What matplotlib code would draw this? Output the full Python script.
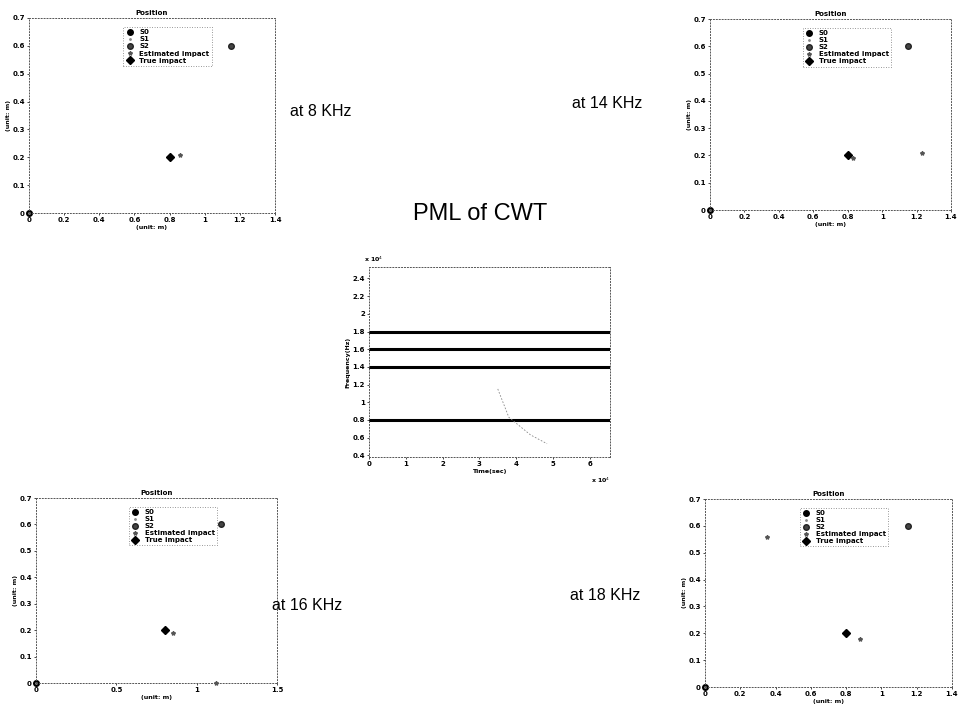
import matplotlib
matplotlib.use("Agg")
import matplotlib.pyplot as plt
import numpy as np

# ---------------- data ----------------
panel_names = ["at 8 KHz", "at 14 KHz", "at 16 KHz", "at 18 KHz"]
s0_pos = (0.0, 0.0)
s1_pos = (0.0, 0.0)
s2_pos = (1.15, 0.6)
true_impact = (0.8, 0.2)
est_8 = [(0.86, 0.21)]
est_14 = [(0.83, 0.19), (1.23, 0.21)]
est_16 = [(0.85, 0.19), (1.12, 0.0)]
est_18 = [(0.88, 0.18), (0.35, 0.56)]
xlims = [(0, 1.4), (0, 1.4), (0, 1.5), (0, 1.4)]
xticks_list = [[0, 0.2, 0.4, 0.6, 0.8, 1, 1.2, 1.4],
               [0, 0.2, 0.4, 0.6, 0.8, 1, 1.2, 1.4],
               [0, 0.5, 1, 1.5],
               [0, 0.2, 0.4, 0.6, 0.8, 1, 1.2, 1.4]]
yticks = [0, 0.1, 0.2, 0.3, 0.4, 0.5, 0.6, 0.7]

# center panel (PML of CWT), frequencies in units of 1e4 Hz, time in 1e4 samples
pml_freqs = [0.8, 1.4, 1.6, 1.8]
time_max = 6.55
faint_t = [3.5, 3.8, 4.39, 4.84]
faint_f = [1.15, 0.83, 0.63, 0.53]
cwt_xticks = [0, 1, 2, 3, 4, 5, 6]
cwt_yticks = [0.4, 0.6, 0.8, 1, 1.2, 1.4, 1.6, 1.8, 2, 2.2, 2.4]

# ---------------- figure ----------------
fig = plt.figure(figsize=(9.62, 7.10), dpi=100)
fig.patch.set_facecolor("white")

def px2fig(x0, x1, ytop, ybot):
    W, H = 962.0, 710.0
    return [x0 / W, 1 - ybot / H, (x1 - x0) / W, (ybot - ytop) / H]

def style_axes(ax):
    for sp in ax.spines.values():
        sp.set_linestyle((0, (1, 2)))
        sp.set_color("#555555")
        sp.set_linewidth(0.7)
    ax.tick_params(labelsize=5, length=1.5, width=0.5, pad=1.5)
    for lab in ax.get_xticklabels() + ax.get_yticklabels():
        lab.set_fontweight("bold")

rects = [px2fig(29, 275, 18, 213), px2fig(710, 951, 19, 210),
         px2fig(36, 277, 498, 683), px2fig(705, 952, 499, 687)]
ests = [est_8, est_14, est_16, est_18]

for rect, est, xl, xt in zip(rects, ests, xlims, xticks_list):
    ax = fig.add_axes(rect)
    ax.plot(*s0_pos, "o", color="black", ms=4, label="S0", clip_on=False)
    ax.plot(*s1_pos, ".", color="#888888", ms=2, label="S1", clip_on=False)
    ax.plot(*s2_pos, "o", color="#222222", ms=4, mfc="#444444", label="S2")
    ex = [p[0] for p in est]
    ey = [p[1] for p in est]
    ax.plot(ex, ey, "*", color="#555555", ms=3, ls="none", label="Estimated impact", clip_on=False)
    ax.plot(*true_impact, "D", color="black", ms=4, label="True impact")
    ax.set_xlim(*xl)
    ax.set_ylim(0, 0.7)
    ax.set_xticks(xt)
    ax.set_xticklabels([f"{v:g}" for v in xt])
    ax.set_yticks(yticks)
    ax.set_yticklabels([f"{v:g}" for v in yticks])
    ax.set_title("Position", fontsize=5, fontweight="bold", pad=2)
    ax.set_xlabel("(unit: m)", fontsize=4.5, fontweight="bold", labelpad=1)
    ax.set_ylabel("(unit: m)", fontsize=4.5, fontweight="bold", labelpad=1)
    leg = ax.legend(loc="upper left", bbox_to_anchor=(0.37, 0.97), fontsize=5,
                    frameon=True, handlelength=1.2, borderpad=0.3, labelspacing=0.15,
                    prop={"weight": "bold", "size": 5})
    leg.get_frame().set_linestyle((0, (1, 2)))
    leg.get_frame().set_edgecolor("#555555")
    leg.get_frame().set_linewidth(0.6)
    leg.get_frame().set_boxstyle("square", pad=0)
    style_axes(ax)

# center axes
axc = fig.add_axes(px2fig(369, 610, 267, 457))
for f in pml_freqs:
    axc.plot([0, time_max], [f, f], color="black", lw=2.2)
axc.plot(faint_t, faint_f, color="#888888", lw=0.6, ls=(0, (2, 2)))
axc.set_xlim(0, time_max)
axc.set_ylim(0.38, 2.53)
axc.set_xticks(cwt_xticks)
axc.set_yticks(cwt_yticks)
axc.set_yticklabels([f"{v:g}" for v in cwt_yticks])
axc.set_xlabel("Time(sec)", fontsize=4.5, fontweight="bold", labelpad=1)
axc.set_ylabel("Frequency(Hz)", fontsize=4.5, fontweight="bold", labelpad=1)
style_axes(axc)
axc.text(-0.02, 1.03, r"x 10$^4$", transform=axc.transAxes, fontsize=4.5, fontweight="bold", ha="left")
axc.text(0.96, -0.10, r"x 10$^4$", transform=axc.transAxes, fontsize=4.5, fontweight="bold",
         ha="center", va="top")

fig.text(480 / 962, 1 - 214 / 710, "PML of CWT", fontsize=17, ha="center", va="center",
         family="Liberation Sans")

label_pos = [(290, 111), (572, 104), (272, 605), (570, 596)]
for (x, y), name in zip(label_pos, panel_names):
    fig.text(x / 962, 1 - y / 710, name, fontsize=11.5, ha="left", va="center",
             family="Liberation Sans")

fig.savefig("out.png", dpi=100, facecolor="white")
